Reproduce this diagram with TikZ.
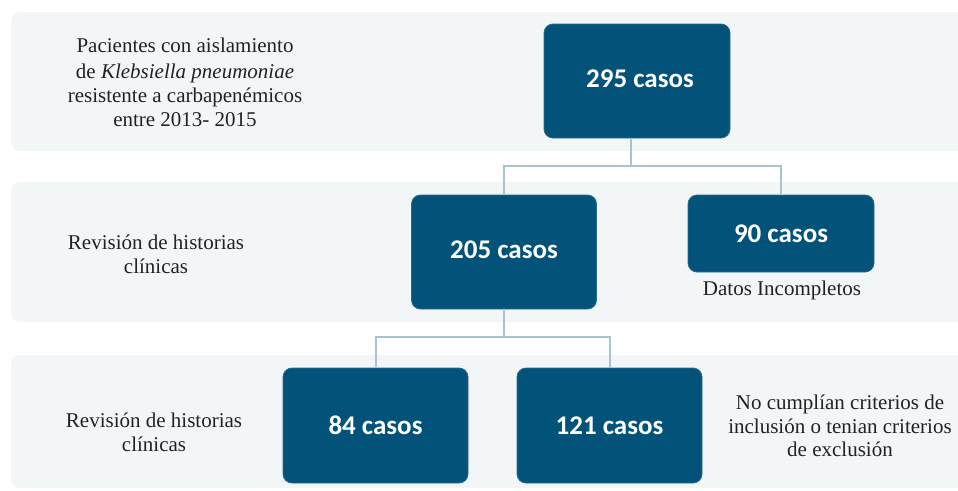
\documentclass[tikz,border=0pt]{standalone}
\usepackage{fontspec}
\setmainfont{Liberation Serif}
\newfontfamily\notefont{Liberation Serif}
\newfontfamily\boxfont{Carlito}
\definecolor{bandfill}{HTML}{F3F6F7}
\definecolor{boxblue}{HTML}{02527A}
\definecolor{linkblue}{HTML}{A7C3D2}
\definecolor{txt}{HTML}{222222}
\tikzset{
  band/.style={fill=bandfill},
  casebox/.style={fill=boxblue, draw=boxblue!85!white, line width=0.8pt, rounded corners=9pt,
    text=white, font=\boxfont\bfseries\fontsize{27}{30}\selectfont, inner sep=0pt},
  caselabel/.style={text=white, font=\boxfont\bfseries\fontsize{27}{30}\selectfont, inner sep=0pt},
  conn/.style={draw=linkblue, line width=2pt},
  note/.style={text=txt, font=\notefont\fontsize{21}{24}\selectfont, align=center, inner sep=0pt}
}
\begin{document}
\begin{tikzpicture}[x=1pt,y=-1pt]
\useasboundingbox (0,0) rectangle (958,490);
\fill[white] (0,0) rectangle (958,490);

% background bands
\fill[band] (958,12) [rounded corners=9pt] -- (11,12) -- (11,151) [sharp corners] -- (958,151) -- cycle;
\fill[band] (958,182) [rounded corners=9pt] -- (11,182) -- (11,322) [sharp corners] -- (958,322) -- cycle;
\fill[band] (958,355) [rounded corners=9pt] -- (11,355) -- (11,488) [sharp corners] -- (958,488) -- cycle;

% case boxes
\node[casebox, minimum width=186pt, minimum height=114pt] (b295) at (637,81) {};
\node[caselabel] (t295) at (b295.center) [xshift=3pt, yshift=2pt] {295 casos};
\node[casebox, minimum width=185pt, minimum height=114pt] (b205) at (504,252) {};
\node[caselabel] (t205) at (b205.center) [yshift=2pt] {205 casos};
\node[casebox, minimum width=186pt, minimum height=77pt] (b90) at (781,233.5) {90 casos};
\node[casebox, minimum width=185pt, minimum height=115pt] (b84) at (375.5,425.5) {84 casos};
\node[casebox, minimum width=185pt, minimum height=115pt] (b121) at (609.5,425.5) {121 casos};

% connectors
\draw[conn] ([xshift=-6pt]b295.south) -- ++(0,28) coordinate (j1);
\draw[conn] (b205.north) |- (j1) -| (b90.north);
\draw[conn] (b205.south) -- ++(0,28) coordinate (j2);
\draw[conn] (b84.north) |- (j2) -| (b121.north);

% notes
\node[note] (n1a) at (185,45) {Pacientes con aislamiento};
\node[note, anchor=north] (n1b) at (185,64) {de \textit{Klebsiella pneumoniae}\\resistente a carbapenémicos\\entre 2013- 2015};
\node[note] (n2) at (156,254) {Revisión de historias\\clínicas};
\node[note] (n3) at (154,432) {Revisión de historias\\clínicas};
\node[note] (n90) at (782,290) {Datos Incompletos};
\node[note, font=\notefont\fontsize{21}{23.5}\selectfont] (n121) at (840,426) {No cumplían criterios de\\inclusión o tenian criterios\\de exclusión};
\end{tikzpicture}
\end{document}
